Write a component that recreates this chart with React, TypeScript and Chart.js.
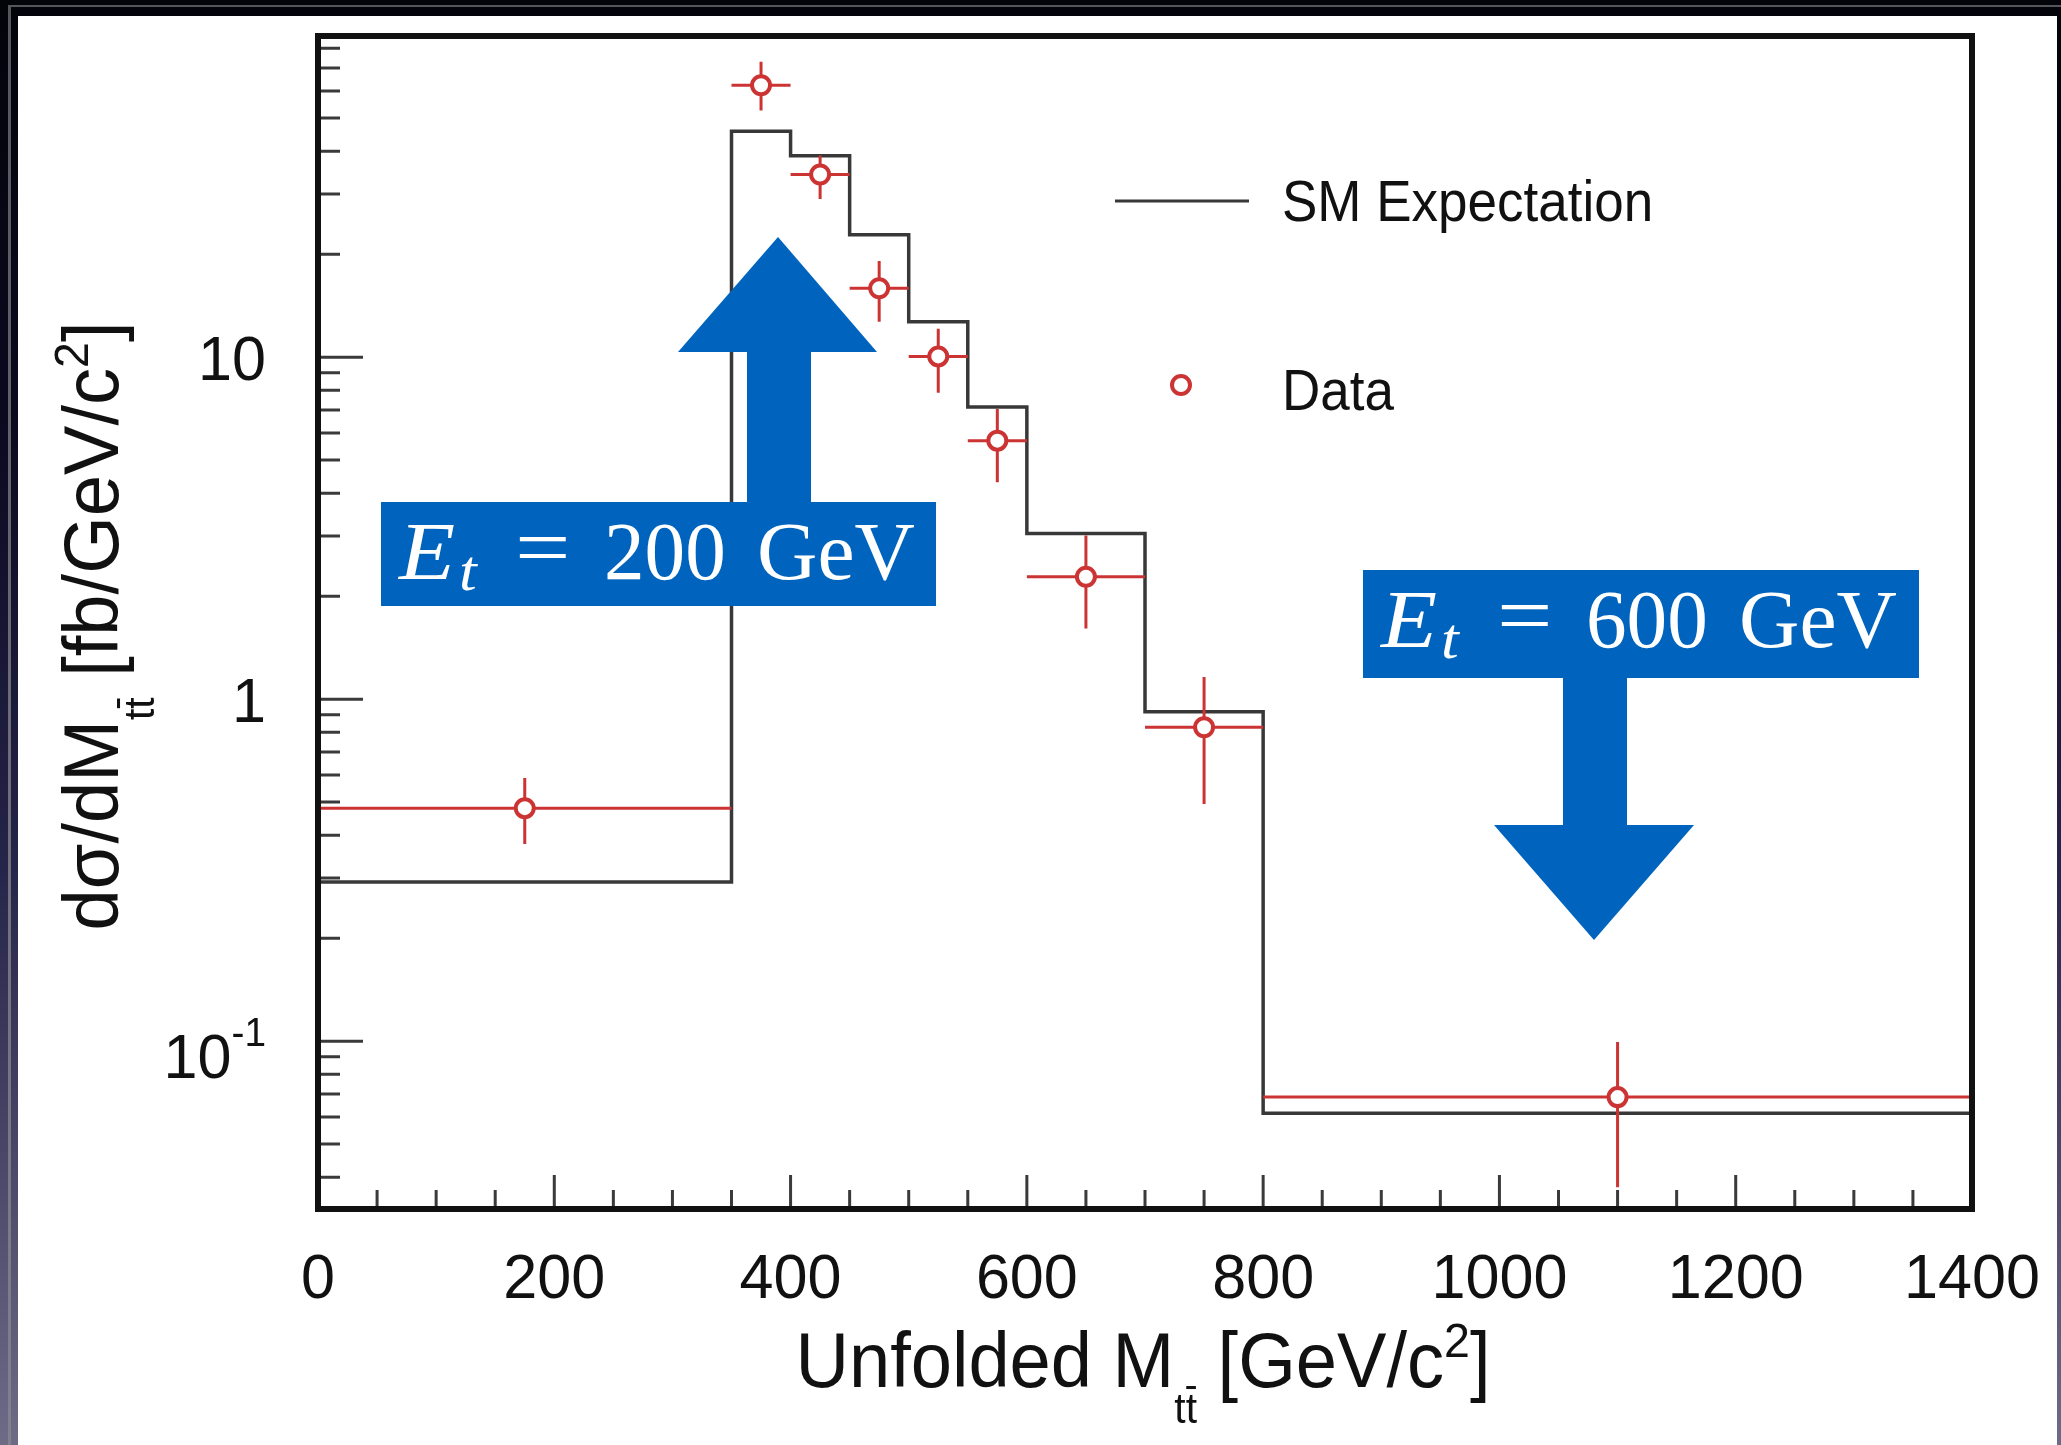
import React, { useEffect, useRef } from "react";
import { Chart, registerables } from "chart.js";

Chart.register(...registerables);

// ---------------- data ----------------
const binEdges = [0, 350, 400, 450, 500, 550, 600, 700, 800, 1400];
const binCenters = [175, 375, 425, 475, 525, 575, 650, 750, 1100];
const smExpectation = [0.292, 45.8, 38.8, 22.8, 12.7, 7.15, 3.05, 0.918, 0.0615];
const dataValues = [0.48, 62.4, 34.2, 15.9, 10.05, 5.7, 2.28, 0.828, 0.0686];
const dataUpper = [0.588, 73.1, 38.9, 19.1, 12.1, 7.05, 3.01, 1.16, 0.0995];
const dataLower = [0.377, 52.6, 29.0, 12.7, 7.87, 4.31, 1.61, 0.494, 0.0374];

const xMajorTicks = [0, 200, 400, 600, 800, 1000, 1200, 1400];
const xTickLabels = ["0", "200", "400", "600", "800", "1000", "1200", "1400"];
const xMinorStep = 50;
const yMajorTicks = [0.1, 1, 10];
const yTickLabels = [
  { base: "10", exp: "-1" },
  { base: "1", exp: "" },
  { base: "10", exp: "" },
];
const yMinorTicks = [
  0.04, 0.05, 0.06, 0.07, 0.08, 0.09,
  0.2, 0.3, 0.4, 0.5, 0.6, 0.7, 0.8, 0.9,
  2, 3, 4, 5, 6, 7, 8, 9,
  20, 30, 40, 50, 60, 70, 80,
];
const xRange = [0, 1400];
const yRange = [0.0323, 86.9];

const legendLabels = ["SM Expectation", "Data"];
const annotationLabels = [
  { value: "200", unit: "GeV" },
  { value: "600", unit: "GeV" },
];

// ---------------- style ----------------
const W = 2061;
const H = 1445;
const RED = "#cc3434";
const LINE = "#383838";
const BLUE = "#0064be";
const SANS = '"Liberation Sans", Arial, Helvetica, sans-serif';
const SERIF = '"Liberation Serif", "Times New Roman", serif';

type Seg = { t: string; size: number; dy?: number; italic?: boolean; bar?: boolean; family?: string };

function segsWidth(ctx: CanvasRenderingContext2D, segs: Seg[]) {
  let w = 0;
  for (const s of segs) {
    ctx.font = `${s.italic ? "italic " : ""}${s.size}px ${s.family || SANS}`;
    w += ctx.measureText(s.t).width;
  }
  return w;
}

function drawSegs(ctx: CanvasRenderingContext2D, segs: Seg[], x: number, y: number, sx: number) {
  ctx.save();
  ctx.translate(x, y);
  ctx.scale(sx, 1);
  ctx.textAlign = "left";
  ctx.textBaseline = "alphabetic";
  let cx = 0;
  for (const s of segs) {
    ctx.font = `${s.italic ? "italic " : ""}${s.size}px ${s.family || SANS}`;
    const dy = s.dy || 0;
    ctx.fillText(s.t, cx, dy);
    const w = ctx.measureText(s.t).width;
    if (s.bar) {
      const lw = ctx.measureText(s.t.slice(-1)).width;
      ctx.fillRect(cx + w - lw + lw * 0.05, dy - s.size * 0.86, lw * 0.85, Math.max(2, s.size * 0.07));
    }
    cx += w;
  }
  ctx.restore();
  return cx * sx;
}

const backgroundPlugin = {
  id: "slideBackground",
  beforeDraw(chart: any) {
    const ctx: CanvasRenderingContext2D = chart.ctx;
    ctx.save();
    const g = ctx.createLinearGradient(0, 0, 0, H);
    g.addColorStop(0, "#03030a");
    g.addColorStop(0.3, "#0a0a20");
    g.addColorStop(0.6, "#25244a");
    g.addColorStop(1, "#6d6b86");
    ctx.fillStyle = g;
    ctx.fillRect(0, 0, W, H);
    const g2 = ctx.createLinearGradient(0, 0, 0, H);
    g2.addColorStop(0, "#55555c");
    g2.addColorStop(1, "#82808f");
    ctx.fillStyle = g2;
    ctx.fillRect(8, 5, 3, H);
    ctx.fillRect(8, 5, W, 2);
    ctx.fillStyle = "#ffffff";
    ctx.fillRect(18, 16, 2057 - 18, H - 16);
    ctx.restore();
  },
};

const overlayPlugin = {
  id: "rootStyleOverlay",
  afterDatasetsDraw(chart: any) {
    const ctx: CanvasRenderingContext2D = chart.ctx;
    const { left, right, top, bottom } = chart.chartArea;
    const xs = chart.scales.x;
    const ys = chart.scales.y;
    ctx.save();

    // ticks
    ctx.strokeStyle = "#3a3a3a";
    ctx.lineWidth = 3;
    ctx.beginPath();
    for (let v = xRange[0]; v <= xRange[1]; v += xMinorStep) {
      const px = xs.getPixelForValue(v);
      const len = xMajorTicks.includes(v) ? 34 : 19;
      ctx.moveTo(px, bottom);
      ctx.lineTo(px, bottom - len);
    }
    for (const v of yMinorTicks) {
      const py = ys.getPixelForValue(v);
      ctx.moveTo(left, py);
      ctx.lineTo(left + 22, py);
    }
    for (const v of yMajorTicks) {
      const py = ys.getPixelForValue(v);
      ctx.moveTo(left, py);
      ctx.lineTo(left + 45, py);
    }
    ctx.stroke();

    // frame
    ctx.strokeStyle = "#111";
    ctx.lineWidth = 6;
    ctx.strokeRect(left, top, right - left, bottom - top);

    // x tick labels
    ctx.fillStyle = "#111";
    const TF = 63;
    const TSX = 0.97;
    xMajorTicks.forEach((v, i) => {
      const segs: Seg[] = [{ t: xTickLabels[i], size: TF }];
      const w = segsWidth(ctx, segs) * TSX;
      drawSegs(ctx, segs, xs.getPixelForValue(v) - w / 2, 1298, TSX);
    });

    // y tick labels
    yMajorTicks.forEach((v, i) => {
      const lab = yTickLabels[i];
      const py = ys.getPixelForValue(v);
      const segs: Seg[] = [{ t: lab.base, size: TF }];
      let base = py + 23;
      if (lab.exp) {
        segs.push({ t: lab.exp, size: 40, dy: -32 });
        base = py + 37;
      }
      const w = segsWidth(ctx, segs) * TSX;
      drawSegs(ctx, segs, 266 - w, base, TSX);
    });

    // axis titles
    const F = 78;
    const ASX = 0.95;
    const xTitle: Seg[] = [
      { t: "Unfolded M", size: F },
      { t: "tt", size: 43, dy: 36, bar: true },
      { t: " [GeV/c", size: F },
      { t: "2", size: 49, dy: -30 },
      { t: "]", size: F },
    ];
    const xw = segsWidth(ctx, xTitle) * ASX;
    drawSegs(ctx, xTitle, 1143 - xw / 2, 1387, ASX);

    const yTitle: Seg[] = [
      { t: "dσ/dM", size: F },
      { t: "tt", size: 43, dy: 36, bar: true },
      { t: " [fb/GeV/c", size: F },
      { t: "2", size: 49, dy: -30 },
      { t: "]", size: F },
    ];
    const yw = segsWidth(ctx, yTitle) * ASX;
    ctx.save();
    ctx.translate(118, 626 + yw / 2);
    ctx.rotate(-Math.PI / 2);
    drawSegs(ctx, yTitle, 0, 0, ASX);
    ctx.restore();

    // legend
    ctx.strokeStyle = LINE;
    ctx.lineWidth = 3;
    ctx.beginPath();
    ctx.moveTo(1115, 201);
    ctx.lineTo(1249, 201);
    ctx.stroke();
    ctx.beginPath();
    ctx.arc(1181, 385, 9, 0, Math.PI * 2);
    ctx.fillStyle = "#fff";
    ctx.fill();
    ctx.strokeStyle = RED;
    ctx.lineWidth = 4;
    ctx.stroke();
    ctx.fillStyle = "#111";
    drawSegs(ctx, [{ t: legendLabels[0], size: 57 }], 1282, 221, 0.93);
    drawSegs(ctx, [{ t: legendLabels[1], size: 57 }], 1282, 410, 0.93);

    // annotations
    const drawBox = (bx: number, by: number, bw: number, bh: number, idx: number) => {
      ctx.fillStyle = BLUE;
      ctx.fillRect(bx, by, bw, bh);
      ctx.fillStyle = "#fff";
      const bl = by + 77;
      drawSegs(ctx, [{ t: "E", size: 82, italic: true, family: SERIF }], bx + 18, bl, 1.12);
      drawSegs(ctx, [{ t: "t", size: 58, italic: true, family: SERIF }], bx + 78, bl + 11, 1.1);
      drawSegs(ctx, [{ t: "=", size: 82, family: SERIF }], bx + 134, bl - 4, 1.2);
      drawSegs(ctx, [{ t: annotationLabels[idx].value, size: 82, family: SERIF }], bx + 223, bl, 0.99);
      drawSegs(ctx, [{ t: annotationLabels[idx].unit, size: 82, family: SERIF }], bx + 376, bl, 1.02);
    };

    // up arrow (200 GeV)
    ctx.fillStyle = BLUE;
    ctx.fillRect(747, 350, 64, 154);
    ctx.beginPath();
    ctx.moveTo(678, 352);
    ctx.lineTo(778, 237);
    ctx.lineTo(877, 352);
    ctx.closePath();
    ctx.fill();
    drawBox(381, 502, 555, 104, 0);

    // down arrow (600 GeV)
    ctx.fillStyle = BLUE;
    ctx.fillRect(1563, 676, 64, 151);
    ctx.beginPath();
    ctx.moveTo(1494, 825);
    ctx.lineTo(1594, 940);
    ctx.lineTo(1694, 825);
    ctx.closePath();
    ctx.fill();
    drawBox(1363, 570, 556, 108, 1);

    ctx.restore();
  },
};

export default function App() {
  const ref = useRef<HTMLCanvasElement>(null);

  useEffect(() => {
    document.body.style.margin = "0";
    const canvas = ref.current;
    if (!canvas) return;

    const smPoints = binEdges.map((x, i) => ({ x, y: smExpectation[Math.min(i, smExpectation.length - 1)] }));

    const errPoints: { x: number; y: number | null }[] = [];
    binCenters.forEach((c, i) => {
      errPoints.push({ x: c, y: dataUpper[i] }, { x: c, y: dataLower[i] }, { x: c, y: null });
      errPoints.push({ x: binEdges[i], y: dataValues[i] }, { x: binEdges[i + 1], y: dataValues[i] }, { x: c, y: null });
    });

    const dataPoints = binCenters.map((x, i) => ({ x, y: dataValues[i] }));

    const chart = new Chart(canvas, {
      type: "line",
      data: {
        datasets: [
          {
            label: "SM Expectation",
            data: smPoints,
            stepped: "before",
            borderColor: LINE,
            borderWidth: 3.5,
            pointRadius: 0,
            fill: false,
            order: 3,
          },
          {
            label: "Data errors",
            data: errPoints,
            borderColor: RED,
            borderWidth: 3,
            pointRadius: 0,
            spanGaps: false,
            fill: false,
            order: 2,
          },
          {
            label: "Data",
            data: dataPoints,
            showLine: false,
            pointRadius: 9,
            pointBorderWidth: 4,
            pointBackgroundColor: "#ffffff",
            pointBorderColor: RED,
            order: 1,
          },
        ],
      } as any,
      options: {
        responsive: false,
        maintainAspectRatio: false,
        animation: false,
        devicePixelRatio: 1,
        parsing: true,
        layout: { padding: { left: 318, right: W - 1972, top: 36, bottom: H - 1209 } },
        plugins: { legend: { display: false }, tooltip: { enabled: false } },
        elements: { line: { tension: 0 } },
        scales: {
          x: { type: "linear", min: xRange[0], max: xRange[1], display: false },
          y: { type: "logarithmic", min: yRange[0], max: yRange[1], display: false },
        },
      } as any,
      plugins: [backgroundPlugin, overlayPlugin],
    });

    return () => chart.destroy();
  }, []);

  return (
    <div style={{ position: "fixed", left: 0, top: 0, width: W, height: H, background: "#000" }}>
      <canvas ref={ref} width={W} height={H} style={{ display: "block", width: W, height: H }} />
    </div>
  );
}
